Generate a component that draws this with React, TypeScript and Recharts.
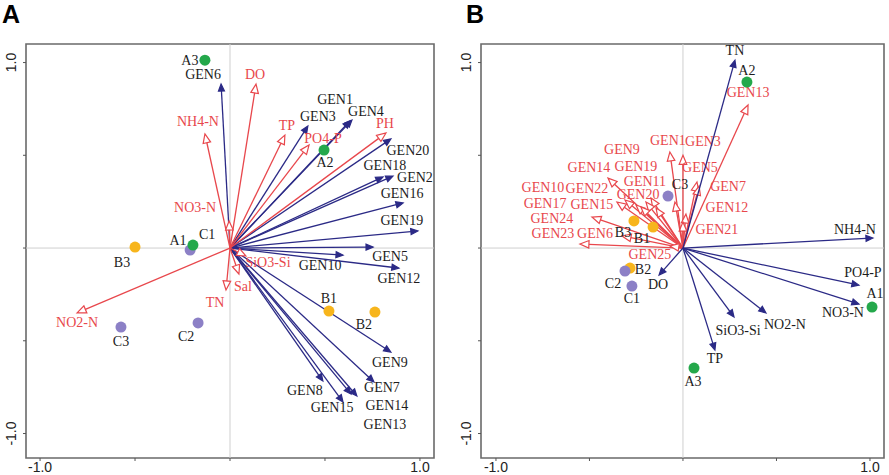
import React from 'react';
import { ScatterChart, Scatter, XAxis, YAxis, ReferenceLine, ReferenceArea } from 'recharts';

// ---------- Panel A data ----------
const envNamesA = ['DO', 'NH4-N', 'TP', 'PO4-P', 'PH', 'NO3-N', 'NO2-N', 'TN', 'Sal', 'SiO3-Si'];
const envXA = [0.137, -0.132, 0.289, 0.416, 0.821, -0.005, -0.805, -0.021, 0.047, 0.084];
const envYA = [0.884, 0.615, 0.609, 0.555, 0.62, 0.146, -0.35, -0.226, -0.14, -0.043];

const genNamesA = ['GEN6', 'GEN3', 'GEN1', 'GEN4', 'GEN20', 'GEN18', 'GEN2', 'GEN16', 'GEN19', 'GEN5', 'GEN10', 'GEN12', 'GEN9', 'GEN7', 'GEN14', 'GEN13', 'GEN15', 'GEN8'];
const genXA = [-0.047, 0.41, 0.632, 0.642, 0.847, 0.805, 0.858, 0.911, 0.989, 0.753, 0.595, 0.889, 0.847, 0.758, 0.668, 0.637, 0.595, 0.489];
const genYA = [0.884, 0.658, 0.685, 0.69, 0.588, 0.383, 0.388, 0.243, 0.092, 0.005, -0.038, -0.108, -0.561, -0.722, -0.798, -0.787, -0.83, -0.717];

const siteNamesA = ['B1', 'B2', 'B3', 'C1', 'C2', 'C3', 'A1', 'A2', 'A3'];
const siteXA = [0.521, 0.763, -0.5, -0.21, -0.168, -0.574, -0.195, 0.495, -0.132];
const siteYA = [-0.34, -0.345, 0.005, -0.011, -0.404, -0.426, 0.016, 0.528, 1.013];

// ---------- Panel B data ----------
const envNamesB = ['TN', 'NH4-N', 'PO4-P', 'NO3-N', 'NO2-N', 'SiO3-Si', 'TP', 'DO'];
const envXB = [0.278, 1.016, 0.941, 0.941, 0.444, 0.273, 0.171, -0.128];
const envYB = [1.013, 0.054, -0.2, -0.302, -0.35, -0.372, -0.55, -0.146];

const genNamesB = ['GEN13', 'GEN1', 'GEN3', 'GEN5', 'GEN7', 'GEN12', 'GEN21', 'GEN11', 'GEN9', 'GEN19', 'GEN20', 'GEN14', 'GEN22', 'GEN10', 'GEN17', 'GEN15', 'GEN24', 'GEN23', 'GEN6', 'GEN25'];
const genXB = [0.348, -0.07, 0.0, 0.075, 0.086, 0.016, 0.0, -0.043, -0.171, -0.198, -0.144, -0.401, -0.31, -0.353, -0.251, -0.225, -0.487, -0.551, -0.326, -0.07];
const genYB = [0.771, 0.518, 0.5, 0.356, 0.334, 0.183, 0.14, 0.248, 0.27, 0.248, 0.216, 0.377, 0.259, 0.248, 0.232, 0.221, 0.167, 0.022, 0.065, 0.011];

const siteNamesB = ['B1', 'B2', 'B3', 'C1', 'C2', 'C3', 'A1', 'A2', 'A3'];
const siteXB = [-0.16, -0.283, -0.262, -0.273, -0.31, -0.08, 1.011, 0.342, 0.059];
const siteYB = [0.113, -0.108, 0.146, -0.205, -0.124, 0.28, -0.318, 0.895, -0.647];

const axisTicks = [-1, -0.5, 0, 0.5, 1];

// ---------- styles / label offsets (pixels) ----------
const RED = '#e8474c';
const NAVY = '#2b2a86';
const INK = '#1c1c1c';
const siteColors: Record<string, string> = { A: '#24a84b', B: '#f7b51c', C: '#8c80c6' };

const offEnvA: Record<string, [number, number]> = {
  DO: [-1, -10], 'NH4-N': [-7, -12], TP: [2, -10], 'PO4-P': [14, -7], PH: [-1, -10],
  'NO3-N': [-34, -13], 'NO2-N': [0, 10], TN: [-11, 13], Sal: [4, 12], 'SiO3-Si': [22, 6],
};
const offGenA: Record<string, [number, number]> = {
  GEN6: [-18, -10], GEN3: [10, -9], GEN1: [-15, -21], GEN4: [14, -9], GEN20: [17, 12],
  GEN18: [2, -11], GEN2: [22, 1], GEN16: [-1, -9], GEN19: [-16, -10], GEN5: [17, 9],
  GEN10: [-23, 10], GEN12: [0, 10], GEN9: [-1, 10], GEN7: [8, 6], GEN14: [30, 9],
  GEN13: [34, 30], GEN15: [-11, 6], GEN8: [-18, 9],
};
const offSiteA: Record<string, [number, number]> = {
  A3: [-15, 0], A2: [1, 12], A1: [-15, -5], C1: [17, -16], B3: [-13, 15],
  C3: [0, 14], C2: [-12, 14], B1: [0, -13], B2: [-11, 12],
};
const offEnvB: Record<string, [number, number]> = {
  TN: [0, -10], 'NH4-N': [-18, -9], 'PO4-P': [4, -13], 'NO3-N': [-16, 8],
  'NO2-N': [19, 12], 'SiO3-Si': [4, 13], TP: [0, 8], DO: [-1, 9],
};
const offGenB: Record<string, [number, number]> = {
  GEN13: [0, -13], GEN1: [-2, -11], GEN3: [20, -14], GEN5: [3, -15], GEN7: [29, 0],
  GEN12: [41, -7], GEN21: [34, 7], GEN11: [-30, -21], GEN9: [-29, -48], GEN19: [-10, -36],
  GEN20: [-18, -13], GEN14: [-19, -11], GEN22: [-38, -11], GEN10: [-74, -15], GEN17: [-91, -2],
  GEN15: [-49, -3], GEN24: [-40, 1], GEN23: [-27, -10], GEN6: [-27, -2], GEN25: [-20, 9],
};
const offSiteB: Record<string, [number, number]> = {
  A2: [0, -12], C3: [12, -12], B3: [-11, 12], B1: [-11, 11], B2: [13, 1],
  C2: [-12, 12], C1: [0, 12], A1: [3, -14], A3: [-1, 13],
};

const labelFont = "'Liberation Serif', 'DejaVu Serif', serif";
const tickFont = "'Liberation Sans', Arial, sans-serif";

function makeArrow(color: string, label: string, labelColor: string, off: [number, number]) {
  const open = color === RED;
  return (p: any) => {
    const { x1, y1, x2, y2 } = p;
    const dx = x2 - x1;
    const dy = y2 - y1;
    const len = Math.hypot(dx, dy) || 1;
    const ux = dx / len;
    const uy = dy / len;
    const hl = open ? 9 : 7;
    const hw = open ? 3.8 : 3;
    const bx = x2 - ux * hl;
    const by = y2 - uy * hl;
    const px = -uy;
    const py = ux;
    const pts = `${x2},${y2} ${bx + px * hw},${by + py * hw} ${bx - px * hw},${by - py * hw}`;
    return (
      <g>
        <line x1={x1} y1={y1} x2={bx} y2={by} stroke={color} strokeWidth={1.3} />
        <polygon points={pts} fill={open ? '#fff' : color} stroke={color} strokeWidth={1.2} />
        <text x={x2 + off[0]} y={y2 + off[1]} textAnchor="middle" dominantBaseline="central"
          fontFamily={labelFont} fontSize={14} fill={labelColor}>{label}</text>
      </g>
    );
  };
}

function YTick(p: any) {
  const v = p.payload.value;
  if (Math.abs(v) !== 1) return <g />;
  const x = p.x - 2;
  return (
    <text x={x} y={p.y} transform={`rotate(-90 ${x} ${p.y})`} textAnchor="middle" dominantBaseline="central"
      fontFamily={tickFont} fontSize={14} fill="#222">{v.toFixed(1)}</text>
  );
}
function XTick(p: any) {
  const v = p.payload.value;
  if (Math.abs(v) !== 1) return <g />;
  return (
    <text x={p.x} y={p.y + 6} textAnchor="middle" dominantBaseline="central"
      fontFamily={tickFont} fontSize={14} fill="#222">{v.toFixed(1)}</text>
  );
}

type PanelProps = {
  width: number; right: number; xDom: [number, number]; yDom: [number, number];
  envNames: string[]; envX: number[]; envY: number[]; envColor: string; envLabel: string; envOff: Record<string, [number, number]>;
  genNames: string[]; genX: number[]; genY: number[]; genColor: string; genLabel: string; genOff: Record<string, [number, number]>;
  siteNames: string[]; siteX: number[]; siteY: number[]; siteOff: Record<string, [number, number]>;
};

function Panel(pr: PanelProps) {
  const sites = pr.siteNames.map((n, i) => ({ name: n, x: pr.siteX[i], y: pr.siteY[i] }));
  const vecs = [
    ...pr.genNames.map((n, i) => ({ name: n, x: pr.genX[i], y: pr.genY[i], color: pr.genColor, lc: pr.genLabel, off: pr.genOff[n] || [0, 0] })),
    ...pr.envNames.map((n, i) => ({ name: n, x: pr.envX[i], y: pr.envY[i], color: pr.envColor, lc: pr.envLabel, off: pr.envOff[n] || [0, 0] })),
  ];
  const siteShape = (p: any) => {
    const n = p.payload.name as string;
    const off = pr.siteOff[n] || [0, 0];
    return (
      <g>
        <circle cx={p.cx} cy={p.cy} r={5.5} fill={siteColors[n[0]]} />
        <text x={p.cx + off[0]} y={p.cy + off[1]} textAnchor="middle" dominantBaseline="central"
          fontFamily={labelFont} fontSize={14} fill={INK}>{n}</text>
      </g>
    );
  };
  return (
    <ScatterChart width={pr.width} height={475} margin={{ top: 44, right: pr.right, bottom: 0, left: 0 }}>
      <XAxis type="number" dataKey="x" domain={pr.xDom} allowDataOverflow ticks={axisTicks} height={17}
        tickSize={3} tickMargin={0} axisLine={false} tickLine={{ stroke: '#555' }} tick={<XTick />} interval={0} />
      <YAxis type="number" dataKey="y" domain={pr.yDom} allowDataOverflow ticks={axisTicks} width={26}
        tickSize={3} tickMargin={10} axisLine={false} tickLine={{ stroke: '#555' }} tick={<YTick />} interval={0} />
      <ReferenceLine x={0} stroke="#cfcfcf" strokeWidth={1} ifOverflow="visible" />
      <ReferenceLine y={0} stroke="#cfcfcf" strokeWidth={1} ifOverflow="visible" />
      <ReferenceArea x1={pr.xDom[0]} x2={pr.xDom[1]} y1={pr.yDom[0]} y2={pr.yDom[1]} fill="none" fillOpacity={0}
        stroke="#6a6a6a" strokeWidth={1.6} ifOverflow="visible" />
      {vecs.map((v) => (
        <ReferenceLine key={v.color + v.name} segment={[{ x: 0, y: 0 }, { x: v.x, y: v.y }]} ifOverflow="visible"
          shape={makeArrow(v.color, v.name, v.lc, v.off as [number, number])} />
      ))}
      <Scatter data={sites} isAnimationActive={false} shape={siteShape} />
    </ScatterChart>
  );
}

export default function App() {
  return (
    <div style={{ position: 'absolute', left: 0, top: 0, width: 889, height: 475, background: '#fff', overflow: 'hidden' }}>
      <div style={{ position: 'absolute', left: 0, top: 0 }}>
        <Panel width={445} right={11} xDom={[-1.074, 1.074]} yDom={[-1.132, 1.1]}
          envNames={envNamesA} envX={envXA} envY={envYA} envColor={RED} envLabel={RED} envOff={offEnvA}
          genNames={genNamesA} genX={genXA} genY={genYA} genColor={NAVY} genLabel={INK} genOff={offGenA}
          siteNames={siteNamesA} siteX={siteXA} siteY={siteYA} siteOff={offSiteA} />
      </div>
      <div style={{ position: 'absolute', left: 455, top: 0 }}>
        <Panel width={434} right={5} xDom={[-1.08, 1.075]} yDom={[-1.132, 1.1]}
          envNames={envNamesB} envX={envXB} envY={envYB} envColor={NAVY} envLabel={INK} envOff={offEnvB}
          genNames={genNamesB} genX={genXB} genY={genYB} genColor={RED} genLabel={RED} genOff={offGenB}
          siteNames={siteNamesB} siteX={siteXB} siteY={siteYB} siteOff={offSiteB} />
      </div>
      <div style={{ position: 'absolute', left: 2, top: 0, fontFamily: tickFont, fontWeight: 700, fontSize: 25, lineHeight: '28px' }}>A</div>
      <div style={{ position: 'absolute', left: 466, top: 0, fontFamily: tickFont, fontWeight: 700, fontSize: 25, lineHeight: '28px' }}>B</div>
    </div>
  );
}
